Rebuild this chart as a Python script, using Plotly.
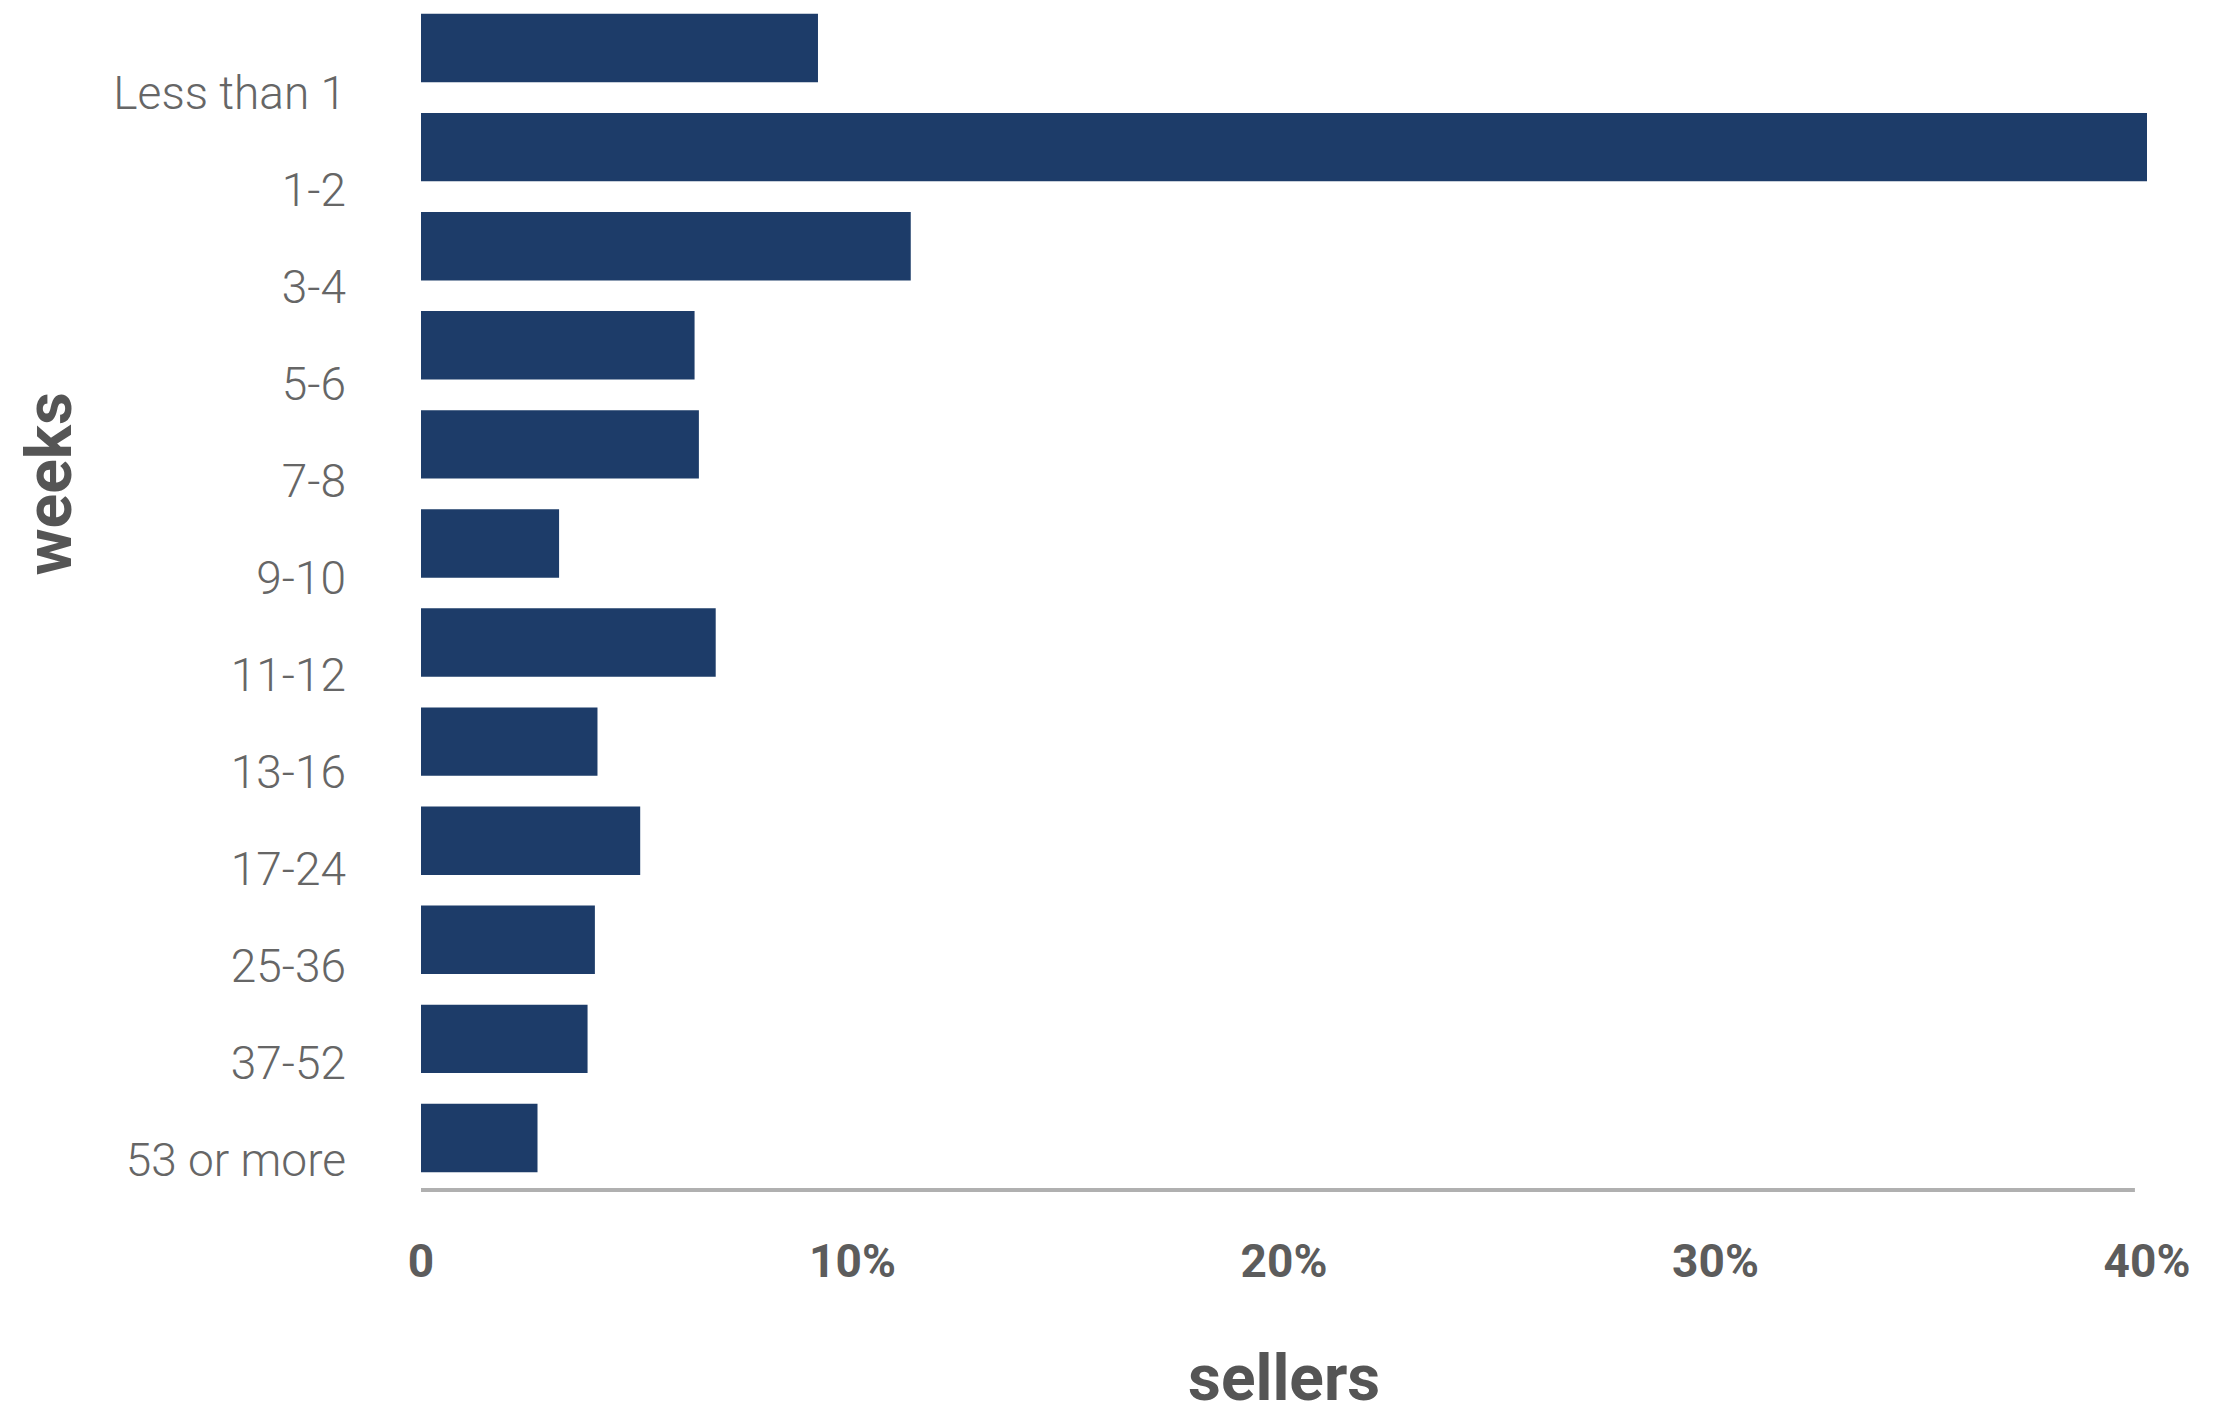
import plotly.graph_objects as go

categories = ["Less than 1", "1-2", "3-4", "5-6", "7-8", "9-10", "11-12",
              "13-16", "17-24", "25-36", "37-52", "53 or more"]
sellers_pct = [9.2, 40.0, 11.35, 6.34, 6.44, 3.2, 6.83, 4.09, 5.08, 4.03, 3.86, 2.7]
x_ticks = [0, 10, 20, 30, 40]
x_tick_labels = ["0", "10%", "20%", "30%", "40%"]

BAR = "#1d3c69"
LABEL_GRAY = "#666666"
TICK_GRAY = "#5c5c5c"
TITLE_GRAY = "#555555"

fig = go.Figure()
fig.add_trace(go.Bar(
    x=sellers_pct, y=categories, orientation="h",
    marker=dict(color=BAR, line=dict(width=0)),
    hoverinfo="skip", showlegend=False,
))
# invisible trace carrying the category labels on an overlaid axis
fig.add_trace(go.Scatter(
    x=[0] * len(categories), y=categories, yaxis="y2",
    mode="markers", marker=dict(opacity=0), hoverinfo="skip", showlegend=False,
))

fig.update_layout(
    width=2232, height=1418,
    margin=dict(l=413, r=93, t=0, b=236),
    paper_bgcolor="white", plot_bgcolor="white",
    bargap=0.31,
    xaxis=dict(
        range=[0, 40], tickvals=x_ticks, ticktext=x_tick_labels,
        showgrid=False, zeroline=False, showline=False,
        ticks="", ticklabelstandoff=40,
        tickfont=dict(family="Roboto", size=46, color=TICK_GRAY, weight=700),
        fixedrange=True,
    ),
    yaxis=dict(
        type="category", categoryorder="array", categoryarray=categories,
        range=[11.525, -0.404], showticklabels=False,
        showgrid=False, zeroline=False, showline=False, ticks="",
    ),
    yaxis2=dict(
        type="category", categoryorder="array", categoryarray=categories,
        overlaying="y", side="left", anchor="x",
        range=[11.309, -0.871],
        showgrid=False, zeroline=False, showline=False, ticks="",
        ticklabelstandoff=74,
        tickfont=dict(family="Roboto", size=46, color=LABEL_GRAY, weight=300),
    ),
    shapes=[dict(type="line", xref="paper", yref="paper", x0=0, x1=0.993,
                 y0=0, y1=0, line=dict(color="#b0b0b0", width=4))],
    annotations=[
        dict(text="sellers", xref="paper", yref="paper", x=0.5, y=-0.1925,
             xanchor="center", yanchor="bottom", showarrow=False,
             font=dict(family="Roboto", size=64, color=TITLE_GRAY, weight=700)),
        dict(text="weeks", xref="paper", yref="paper", x=-0.2155, y=0.597,
             xanchor="center", yanchor="middle", showarrow=False, textangle=-90,
             font=dict(family="Roboto", size=64, color=TITLE_GRAY, weight=700)),
    ],
)

fig.write_html("out.html", config={"displayModeBar": False})
